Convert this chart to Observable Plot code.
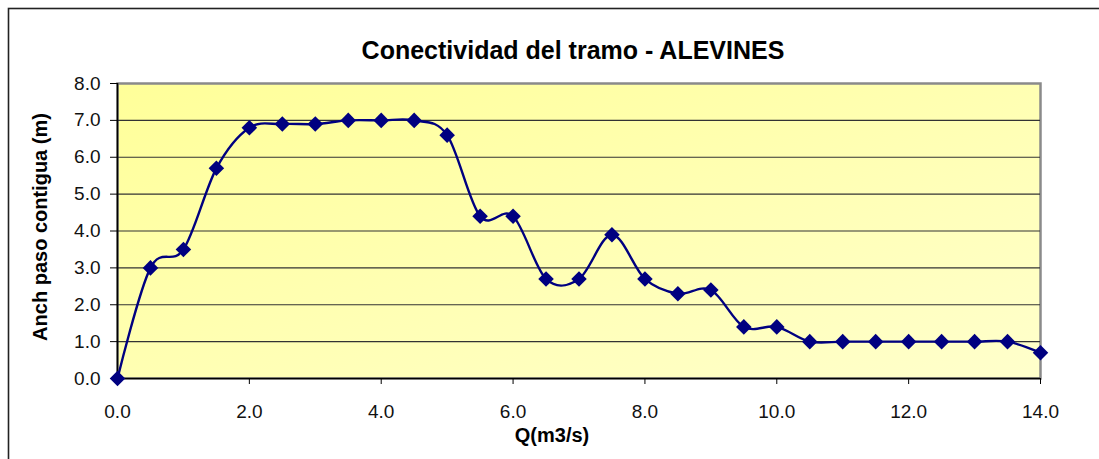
<!DOCTYPE html>
<html>
<head>
<meta charset="utf-8">
<script src="https://cdn.jsdelivr.net/npm/d3@7"></script>
<script src="https://cdn.jsdelivr.net/npm/@observablehq/plot@0.6"></script>
<style>
  html, body { margin: 0; padding: 0; background: #fff; }
  #chart svg { display: block; }
</style>
</head>
<body>
<div id="chart"></div>
<script>
const caudal = [0, 0.5, 1, 1.5, 2, 2.5, 3, 3.5, 4, 4.5, 5, 5.5, 6, 6.5, 7, 7.5, 8, 8.5, 9, 9.5, 10, 10.5, 11, 11.5, 12, 12.5, 13, 13.5, 14];
const anchura = [0, 3.0, 3.5, 5.7, 6.8, 6.9, 6.9, 7.0, 7.0, 7.0, 6.6, 4.4, 4.4, 2.7, 2.7, 3.9, 2.7, 2.3, 2.4, 1.4, 1.4, 1.0, 1.0, 1.0, 1.0, 1.0, 1.0, 1.0, 0.7];
const xTicks = [0, 2, 4, 6, 8, 10, 12, 14];
const yTicks = [0, 1, 2, 3, 4, 5, 6, 7, 8];
const gridLines = [1, 2, 3, 4, 5, 6, 7];
const titulo = "Conectividad del tramo - ALEVINES";
const etiquetaX = "Q(m3/s)";
const etiquetaY = "Anch paso contigua (m)";

const data = caudal.map((q, i) => ({q, a: anchura[i]}));
const font = "'Liberation Sans', Arial, Helvetica, sans-serif";

const chart = Plot.plot({
  width: 1099,
  height: 459,
  marginLeft: 117,
  marginRight: 59,
  marginTop: 83,
  marginBottom: 81,
  style: {fontFamily: font, background: "transparent", overflow: "visible"},
  x: {domain: [0, 14]},
  y: {domain: [0, 8]},
  marks: [
    Plot.frame({fill: "url(#bgGrad)", stroke: "#8a8a8a", strokeWidth: 2.5}),
    Plot.ruleY(gridLines, {stroke: "#333", strokeWidth: 1.2}),
    Plot.ruleX([0], {stroke: "#000", strokeWidth: 1.6}),
    Plot.ruleY([0], {stroke: "#000", strokeWidth: 1.6}),
    Plot.axisY({ticks: yTicks, tickFormat: d => d.toFixed(1), tickSize: 7, tickPadding: 10, fontSize: 19, label: null, stroke: "#000", color: "#111"}),
    Plot.axisX({ticks: xTicks, tickFormat: d => d.toFixed(1), tickSize: 6, tickPadding: 20, fontSize: 19, label: null, stroke: "#000", color: "#111"}),
    Plot.line(data, {x: "q", y: "a", curve: "cardinal", stroke: "#000080", strokeWidth: 2.4}),
    Plot.dot(data, {x: "q", y: "a", symbol: "diamond2", r: 7, fill: "#000080", stroke: "none"})
  ]
});

document.getElementById("chart").appendChild(chart);

const svg = d3.select(chart);
svg.insert("defs", ":first-child").html(
  `<linearGradient id="bgGrad" x1="0" y1="0" x2="1" y2="1">
     <stop offset="0" stop-color="#ffff99"/>
     <stop offset="1" stop-color="#ffffcc"/>
   </linearGradient>`
);

svg.append("rect")
  .attr("x", 8.5).attr("y", 8.5)
  .attr("width", 1100).attr("height", 460)
  .attr("fill", "none").attr("stroke", "#222").attr("stroke-width", 1.6);

svg.append("text")
  .attr("x", 573).attr("y", 59)
  .attr("text-anchor", "middle")
  .attr("font-family", font).attr("font-weight", "bold").attr("font-size", 25)
  .attr("fill", "#000")
  .text(titulo);

svg.append("text")
  .attr("x", 552).attr("y", 442)
  .attr("text-anchor", "middle")
  .attr("font-family", font).attr("font-weight", "bold").attr("font-size", 20)
  .attr("fill", "#000")
  .text(etiquetaX);

svg.append("text")
  .attr("transform", "translate(47,227) rotate(-90)")
  .attr("text-anchor", "middle")
  .attr("font-family", font).attr("font-weight", "bold").attr("font-size", 20)
  .attr("fill", "#000")
  .text(etiquetaY);
</script>
</body>
</html>
